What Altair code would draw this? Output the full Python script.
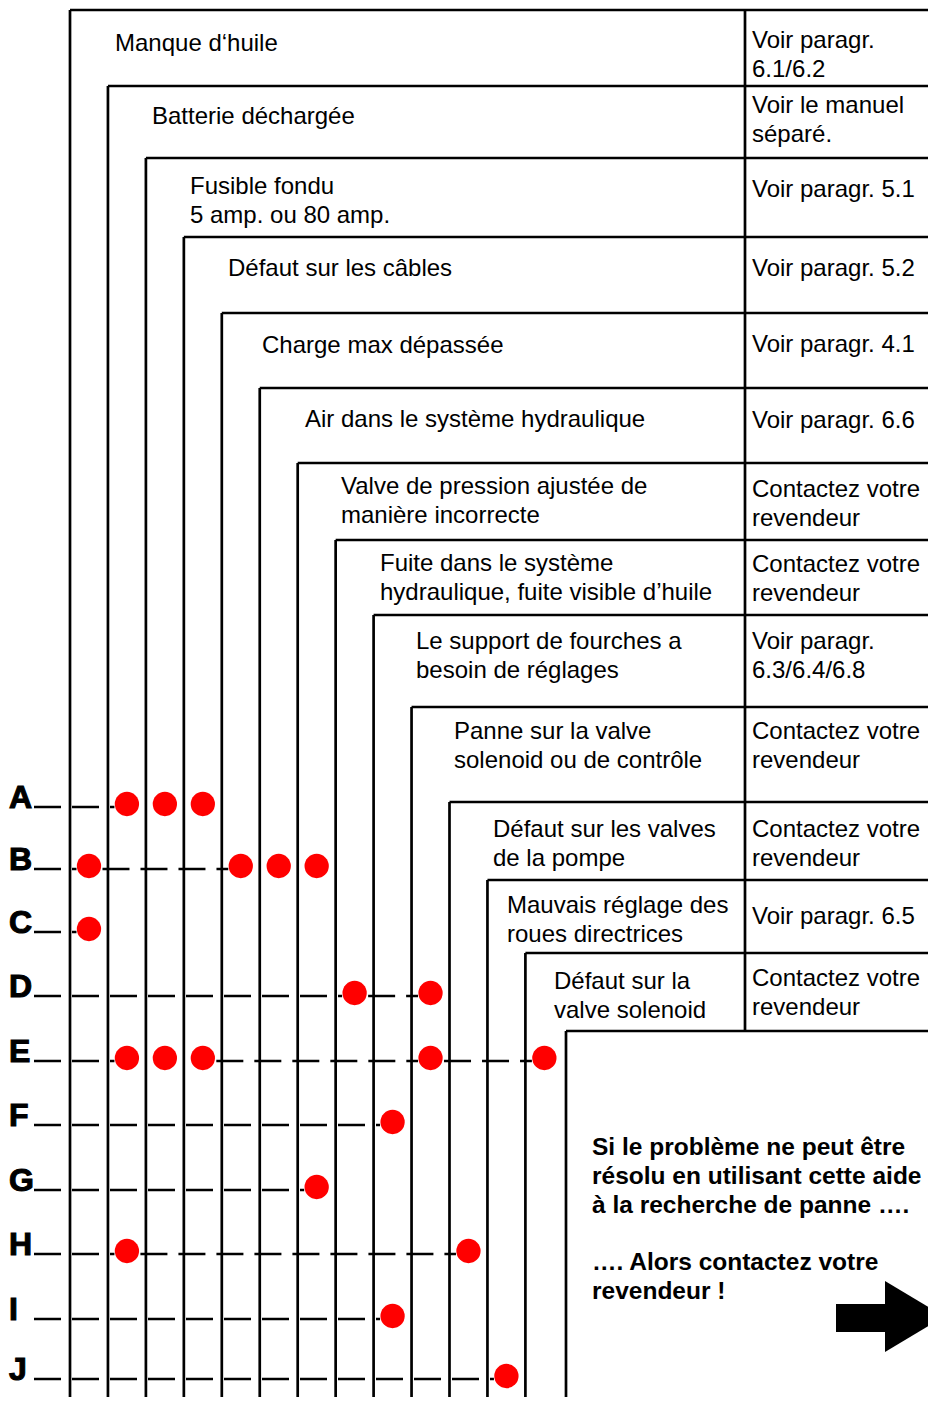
import altair as alt
import pandas as pd

# ---------------- data ----------------
symptoms = ["A", "B", "C", "D", "E", "F", "G", "H", "I", "J"]

causes = [
    "Manque d‘huile",
    "Batterie déchargée",
    "Fusible fondu\n5 amp. ou 80 amp.",
    "Défaut sur les câbles",
    "Charge max dépassée",
    "Air dans le système hydraulique",
    "Valve de pression ajustée de\nmanière incorrecte",
    "Fuite dans le système\nhydraulique, fuite visible d’huile",
    "Le support de fourches a\nbesoin de réglages",
    "Panne sur la valve\nsolenoid ou de contrôle",
    "Défaut sur les valves\nde la pompe",
    "Mauvais réglage des\nroues directrices",
    "Défaut sur la\nvalve solenoid",
]

remedies = [
    "Voir paragr.\n6.1/6.2",
    "Voir le manuel\nséparé.",
    "Voir paragr. 5.1",
    "Voir paragr. 5.2",
    "Voir paragr. 4.1",
    "Voir paragr. 6.6",
    "Contactez votre\nrevendeur",
    "Contactez votre\nrevendeur",
    "Voir paragr.\n6.3/6.4/6.8",
    "Contactez votre\nrevendeur",
    "Contactez votre\nrevendeur",
    "Voir paragr. 6.5",
    "Contactez votre\nrevendeur",
]

# cause numbers (1-based) marked with a red dot for each symptom
dot_causes = [
    [2, 3, 4],
    [1, 5, 6, 7],
    [1],
    [8, 10],
    [2, 3, 4, 10, 13],
    [9],
    [7],
    [2, 11],
    [9],
    [12],
]

advice = [
    "Si le problème ne peut être",
    "résolu en utilisant cette aide",
    "à la recherche de panne ….",
    "",
    "…. Alors contactez votre",
    "revendeur !",
]

# ---------------- layout (pixel units of the page) ----------------
LEFT, RIGHT, TOP, BOTTOM = 8, 928, 8, 1397      # drawable page area
PAGE_R, PAGE_B = 936, 1405
col_x0, col_step = 70, 37.95
header_top = [10, 86, 158, 237, 313, 388, 463, 540, 615, 707, 802, 880, 953]
box_top, box_left = 1031, 566
divider_x, remedy_x = 745, 752
cause_text_x = [115, 152, 190, 228, 262, 305, 341, 380, 416, 454, 493, 507, 554]
cause_base = [50.5, 123.5, 193.5, 275.5, 352.5, 426.5, 493.5, 570.5, 648.5, 738.5, 836.5, 912.5, 988.5]
remedy_base = [47.5, 112.5, 196.5, 275.5, 351.5, 427.5, 496.5, 571.5, 648.5, 738.5, 836.5, 923.5, 985.5]
line_h = 29
row_y = [804, 866, 929, 993, 1058, 1122, 1187, 1251, 1316, 1376]
dash_x0 = 34
dot_r = 13.5
advice_x, advice_base, advice_lh = 592, 1155, 28.8
arrow_shaft = dict(x=836, x2=886, y=1304, y2=1332)
arrow_head = [(885, 1281, 1352), (944, 1316.5, 1316.5)]

FONT = "Liberation Sans"
LW = 2.7

col_x = [col_x0 + col_step * i for i in range(len(causes))]

xs = alt.Scale(domain=[LEFT, RIGHT], nice=False, zero=False)
ys = alt.Scale(domain=[TOP, BOTTOM], nice=False, zero=False, reverse=True)


def X(f="x"):
    return alt.X(f"{f}:Q", scale=xs, axis=None)


def Y(f="y"):
    return alt.Y(f"{f}:Q", scale=ys, axis=None)


# vertical lines
v_rows = [{"x": col_x[i], "y": header_top[i], "y2": PAGE_B} for i in range(len(causes))]
v_rows.append({"x": box_left, "y": box_top, "y2": PAGE_B})
v_rows.append({"x": divider_x, "y": header_top[0], "y2": box_top})
vlines = alt.Chart(pd.DataFrame(v_rows)).mark_rule(color="black", strokeWidth=LW).encode(
    x=X(), y=Y(), y2="y2:Q"
)

# horizontal header lines
h_rows = [{"x": col_x[i], "x2": PAGE_R, "y": header_top[i]} for i in range(len(causes))]
h_rows.append({"x": box_left, "x2": PAGE_R, "y": box_top})
hlines = alt.Chart(pd.DataFrame(h_rows)).mark_rule(color="black", strokeWidth=LW).encode(
    x=X(), x2="x2:Q", y=Y()
)

# dots and dashed symptom lines (dash pattern restarts after each dot)
dot_rows, dash_rows = [], []
for s, yy, cl in zip(symptoms, row_y, dot_causes):
    start = dash_x0
    for c in sorted(cl):
        cx = col_x[c - 1] + col_step / 2
        dot_rows.append({"sym": s, "x": cx, "y": yy})
        if cx - dot_r - start > 15:
            dash_rows.append({"sym": s, "x": start, "x2": cx - dot_r + 1, "y": yy + 3})
        start = cx + dot_r

dashes = alt.Chart(pd.DataFrame(dash_rows)).mark_rule(
    color="black", strokeWidth=2.6, strokeDash=[27, 11]
).encode(x=X(), x2="x2:Q", y=Y())

dots = alt.Chart(pd.DataFrame(dot_rows)).mark_circle(color="#ff0000", opacity=1, size=590).encode(
    x=X(), y=Y()
)

# row labels
lab = alt.Chart(pd.DataFrame({"t": symptoms, "y": [v + 4 for v in row_y]})).mark_text(
    font=FONT, fontSize=32, fontWeight="bold", align="left", baseline="alphabetic",
    color="black", stroke="black", strokeWidth=1.1
).encode(x=alt.value(9 - LEFT), y=Y(), text="t:N")

# cause / remedy text lines
t_rows = []
for i, txt in enumerate(causes):
    for k, line in enumerate(txt.split("\n")):
        t_rows.append({"t": line, "x": cause_text_x[i], "y": cause_base[i] + k * line_h})
for i, txt in enumerate(remedies):
    for k, line in enumerate(txt.split("\n")):
        t_rows.append({"t": line, "x": remedy_x, "y": remedy_base[i] + k * line_h})
texts = alt.Chart(pd.DataFrame(t_rows)).mark_text(
    font=FONT, fontSize=24, align="left", baseline="alphabetic", color="black"
).encode(x=X(), y=Y(), text="t:N")

a_rows = [{"t": l, "x": advice_x, "y": advice_base + k * advice_lh} for k, l in enumerate(advice) if l]
adv = alt.Chart(pd.DataFrame(a_rows)).mark_text(
    font=FONT, fontSize=24.5, fontWeight="bold", align="left", baseline="alphabetic", color="black"
).encode(x=X(), y=Y(), text="t:N")

# arrow
shaft = alt.Chart(pd.DataFrame([arrow_shaft])).mark_rect(color="black").encode(
    x=X(), x2="x2:Q", y=Y(), y2="y2:Q"
)
head = alt.Chart(pd.DataFrame(arrow_head, columns=["x", "y", "y2"])).mark_area(
    color="black", opacity=1, orient="vertical"
).encode(x=X(), y=Y(), y2="y2:Q")

chart = alt.layer(vlines, hlines, dashes, dots, lab, texts, adv, shaft, head).properties(
    width=RIGHT - LEFT,
    height=BOTTOM - TOP,
    padding=0,
    autosize=alt.AutoSizeParams(type="none"),
    background="white",
).configure_view(stroke=None)

chart.save("out.html", embed_options={"renderer": "svg", "actions": False})
